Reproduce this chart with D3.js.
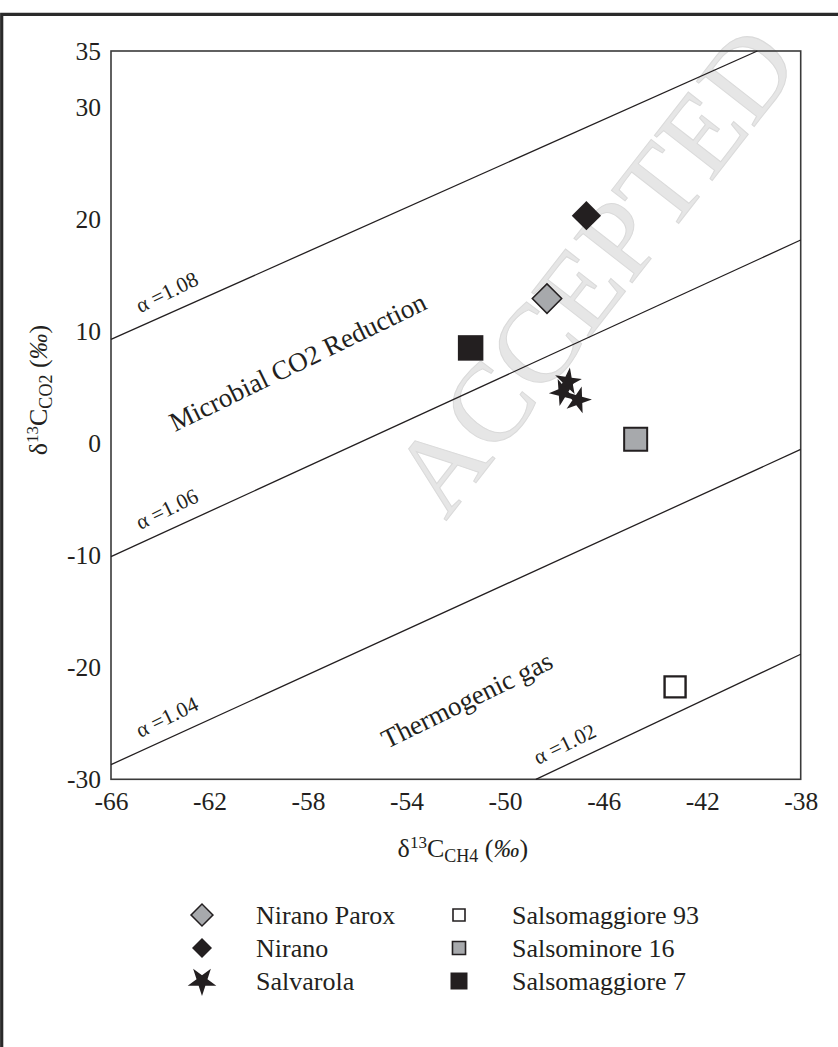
<!DOCTYPE html>
<html>
<head>
<meta charset="utf-8">
<script src="https://cdn.jsdelivr.net/npm/d3@7"></script>
<style>
  body { margin: 0; background: #fff; }
  svg { display: block; }
  svg text { font-family: "Liberation Serif", "Times New Roman", serif; }
</style>
</head>
<body>
<div id="chart"></div>
<script>
// one entry per plotted symbol
const sampleNames = ["Nirano Parox", "Nirano", "Salvarola", "Salvarola", "Salvarola", "Salsomaggiore 93", "Salsominore 16", "Salsomaggiore 7"]
const ch4Values = [-48.3, -46.7, -47.45, -47.65, -47.05, -43.1, -44.7, -51.4]
const co2Values = [12.9, 20.3, 5.5, 4.55, 3.85, -21.75, 0.35, 8.5]

// fractionation lines (alpha), end points
const alphaLabels = ["α =1.08", "α =1.06", "α =1.04", "α =1.02"]
const alphaStartCH4 = [-66, -66, -66, -48.75]
const alphaStartCO2 = [9.26, -10.13, -28.69, -30]
const alphaEndCH4 = [-39.76, -38, -38, -38]
const alphaEndCO2 = [35, 18.13, -0.56, -18.84]
const alphaLabelCH4 = [-64.6, -64.6, -64.6, -48.45]

// field names
const fieldLabels = ["Microbial CO2 Reduction", "Thermogenic gas"]
const fieldCH4 = [-63.4, -54.8]
const fieldCO2 = [1.0, -27.3]

// ticks
const xTicks = [-66, -62, -58, -54, -50, -46, -42, -38]
const yTicks = [-30, -20, -10, 0, 10, 20, 30, 35]

// legend, two columns of three
const legendNames = ["Nirano Parox", "Nirano", "Salvarola", "Salsomaggiore 93", "Salsominore 16", "Salsomaggiore 7"]

// chart dimensions
const width = 838
const height = 1047
const margin = { top: 51, right: 37.3, bottom: 267.7, left: 111 }

const serif = "'Liberation Serif', 'Times New Roman', serif"
const black = "#231f20"
const grey = "#a7a9ac"

// symbol styles per sample
const style = {
  "Nirano Parox":     { shape: d3.symbolSquare, fill: grey,   stroke: black, sw: 1.5, size: 433, legendSize: 240, rotate: 45 },
  "Nirano":           { shape: d3.symbolSquare, fill: black,  stroke: "none", sw: 0,  size: 430, legendSize: 200, rotate: 45 },
  "Salvarola":        { shape: d3.symbolStar,   fill: black,  stroke: "none", sw: 0,  size: 225, legendSize: 255, rotate: 180 },
  "Salsomaggiore 93": { shape: d3.symbolSquare, fill: "#fff", stroke: black, sw: 2.4, size: 441, legendSize: 144, rotate: 0 },
  "Salsominore 16":   { shape: d3.symbolSquare, fill: grey,   stroke: black, sw: 2,   size: 530, legendSize: 170, rotate: 0 },
  "Salsomaggiore 7":  { shape: d3.symbolSquare, fill: black,  stroke: "none", sw: 0,  size: 650, legendSize: 289, rotate: 0 }
}
const starTurns = [8, -22, 16] // the three Salvarola stars sit at slightly different angles
const textAngle = -26

// scales
const x = d3.scaleLinear()
  .domain([-66, -38])
  .range([margin.left, width - margin.right])

const y = d3.scaleLinear()
  .domain([-30, 35])
  .range([height - margin.bottom, margin.top])

const svg = d3.select("#chart")
  .append("svg")
  .attr("width", width)
  .attr("height", height)

// watermark behind everything
svg.append("text")
  .attr("transform", "translate(594,270) rotate(-52)")
  .attr("text-anchor", "middle")
  .attr("dominant-baseline", "central")
  .attr("font-family", serif)
  .attr("font-size", 112)
  .attr("fill", "#e6e6e6")
  .attr("stroke", "#dadada")
  .attr("stroke-width", 1)
  .text("ACCEPTED")

// plot box
svg.append("rect")
  .attr("x", x(-66))
  .attr("y", y(35))
  .attr("width", x(-38) - x(-66))
  .attr("height", y(-30) - y(35))
  .attr("fill", "none")
  .attr("stroke", "#3a3a3a")
  .attr("stroke-width", 1.6)

// alpha lines
const alphaData = alphaLabels.map((label, i) => ({
  label,
  x0: alphaStartCH4[i], y0: alphaStartCO2[i],
  x1: alphaEndCH4[i], y1: alphaEndCO2[i],
  lx: alphaLabelCH4[i]
}))

svg.append("g")
  .selectAll("line")
  .data(alphaData)
  .join("line")
    .attr("x1", d => x(d.x0))
    .attr("y1", d => y(d.y0))
    .attr("x2", d => x(d.x1))
    .attr("y2", d => y(d.y1))
    .attr("stroke", black)
    .attr("stroke-width", 1.3)

// label sits just above its line, near the left end
svg.append("g")
  .selectAll("text")
  .data(alphaData)
  .join("text")
    .attr("transform", d => {
      const ly = d.y0 + (d.lx - d.x0) * (d.y1 - d.y0) / (d.x1 - d.x0)
      return `translate(${x(d.lx)},${y(ly)}) rotate(${textAngle})`
    })
    .attr("dy", -12)
    .attr("font-family", serif)
    .attr("font-size", 21.5)
    .attr("fill", black)
    .text(d => d.label)

// field names
svg.append("g")
  .selectAll("text")
  .data(fieldLabels)
  .join("text")
    .attr("transform", (d, i) => `translate(${x(fieldCH4[i])},${y(fieldCO2[i])}) rotate(${textAngle})`)
    .attr("font-family", serif)
    .attr("font-size", 27)
    .attr("fill", black)
    .text(d => d)

// samples
let starCount = 0
svg.append("g")
  .selectAll("path")
  .data(sampleNames.map((name, i) => ({ name, ch4: ch4Values[i], co2: co2Values[i] })))
  .join("path")
    .attr("d", d => d3.symbol(style[d.name].shape, style[d.name].size)())
    .attr("transform", d => {
      const s = style[d.name]
      const r = s.shape === d3.symbolStar ? starTurns[starCount++] : s.rotate
      return `translate(${x(d.ch4)},${y(d.co2)}) rotate(${r})`
    })
    .attr("fill", d => style[d.name].fill)
    .attr("stroke", d => style[d.name].stroke)
    .attr("stroke-width", d => style[d.name].sw)

// axes
const xAxis = svg.append("g")
  .attr("transform", `translate(0,${height - margin.bottom})`)
  .call(d3.axisBottom(x).tickValues(xTicks).tickSize(0).tickPadding(13))

const yAxis = svg.append("g")
  .attr("transform", `translate(${margin.left},0)`)
  .call(d3.axisLeft(y).tickValues(yTicks).tickSize(0).tickPadding(10))

for (const ax of [xAxis, yAxis]) {
  ax.attr("font-family", serif)
  ax.select(".domain").remove()
  ax.selectAll("text")
    .attr("font-family", serif)
    .attr("font-size", 25.5)
    .attr("fill", black)
    .text(d => String(d)) // plain hyphen, as in the original
}

// axis titles with super/subscripts
function axisTitle (g, sub) {
  g.append("tspan").text("δ")
  g.append("tspan").attr("font-size", 17).attr("dy", -9).text("13")
  g.append("tspan").attr("dy", 9).text("C")
  g.append("tspan").attr("font-size", 18).attr("dy", 5).text(sub)
  g.append("tspan").attr("dy", -5).text(" (")
  g.append("tspan").attr("font-style", "italic").text("‰")
  g.append("tspan").text(")")
}

const xTitle = svg.append("text")
  .attr("x", (margin.left + width - margin.right) / 2 + 7)
  .attr("y", 857)
  .attr("text-anchor", "middle")
  .attr("font-family", serif)
  .attr("font-size", 26)
  .attr("fill", black)
axisTitle(xTitle, "CH4")

const yTitle = svg.append("text")
  .attr("transform", "translate(47,390) rotate(-90)")
  .attr("text-anchor", "middle")
  .attr("font-family", serif)
  .attr("font-size", 26)
  .attr("fill", black)
axisTitle(yTitle, "CO2")

// legend
const legendCols = [{ mark: 202, text: 256 }, { mark: 459, text: 512 }]
const legendRows = [915, 948, 981]

const legend = svg.append("g")
  .selectAll("g")
  .data(legendNames)
  .join("g")
    .attr("transform", (d, i) => `translate(0,${legendRows[i % 3]})`)

legend.append("path")
  .attr("d", d => d3.symbol(style[d].shape, style[d].legendSize)())
  .attr("transform", (d, i) => `translate(${legendCols[Math.floor(i / 3)].mark},0) rotate(${style[d].rotate})`)
  .attr("fill", d => style[d].fill)
  .attr("stroke", d => style[d].stroke)
  .attr("stroke-width", d => Math.min(style[d].sw, 1.6))

legend.append("text")
  .attr("x", (d, i) => legendCols[Math.floor(i / 3)].text)
  .attr("dy", "0.33em")
  .attr("font-family", serif)
  .attr("font-size", 26)
  .attr("fill", black)
  .text(d => d)

// page frame (top and left edges only)
svg.append("path")
  .attr("d", `M${width},14.3H1.7V${height}`)
  .attr("fill", "none")
  .attr("stroke", "#2a2a2a")
  .attr("stroke-width", 3.2)
</script>
</body>
</html>
